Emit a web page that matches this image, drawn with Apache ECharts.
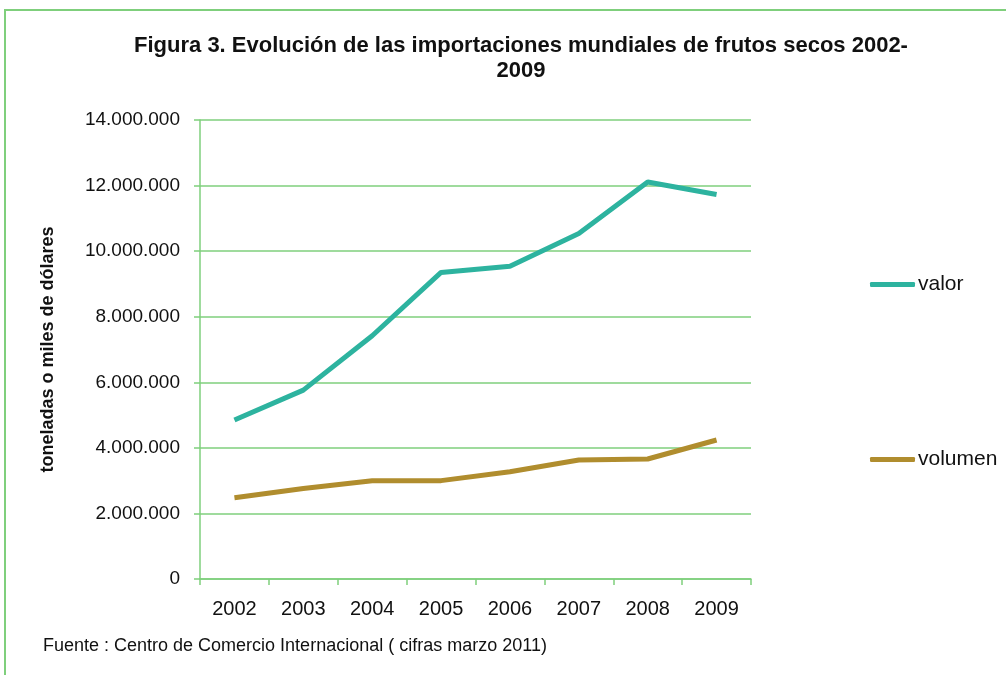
<!DOCTYPE html>
<html>
<head>
<meta charset="utf-8">
<script src="https://cdn.jsdelivr.net/npm/echarts@6/dist/echarts.min.js"></script>
<style>
  html, body { margin: 0; padding: 0; background: #fff; }
  #chart { width: 1006px; height: 675px; }
</style>
</head>
<body>
<div id="chart"></div>
<script>
// datos
const years = ['2002', '2003', '2004', '2005', '2006', '2007', '2008', '2009'];
const valor = [4850000, 5760000, 7420000, 9350000, 9540000, 10540000, 12110000, 11730000];
const volumen = [2480000, 2760000, 3000000, 3000000, 3270000, 3630000, 3660000, 4240000];
const yTicks = [0, 2000000, 4000000, 6000000, 8000000, 10000000, 12000000, 14000000];

const green = '#7fcf7c';
const font = '"Liberation Sans", Arial, sans-serif';

// separador de miles con punto
function fmt(v) {
    return String(v).replace(/\B(?=(\d{3})+(?!\d))/g, '.');
}

const chart = echarts.init(document.getElementById('chart'));

const option = {
    backgroundColor: '#fff',
    animation: false,
    title: {
        text: 'Figura 3. Evolución de las importaciones mundiales de frutos secos 2002-\n2009',
        left: 516,
        top: 28,
        textAlign: 'center',
        textStyle: {
            fontFamily: font,
            fontWeight: 'bold', fontSize: 22, lineHeight: 25, color: '#111'
        }
    },
    graphic: [{
        type: 'rect',
        shape: { x: 5, y: 10, width: 1010, height: 680 },
        style: { fill: 'none', stroke: green, lineWidth: 2 }
    }, {
        type: 'text',
        left: 43, top: 637,
        style: {
            text: 'Fuente : Centro de Comercio Internacional ( cifras marzo 2011)',
            font: '18px ' + font, fill: '#111'
        }
    }],
    legend: {
        orient: 'vertical',
        left: 865, top: 269,
        itemWidth: 45, itemHeight: 5,
        itemGap: 154,
        icon: 'roundRect',
        textStyle: { fontFamily: font, fontSize: 21, color: '#111', padding: [0, 0, 0, -2] },
        data: ['valor', 'volumen']
    },
    grid: { left: 200, right: 255, top: 120, bottom: 96 },
    xAxis: {
        type: 'category',
        data: years,
        boundaryGap: true,
        axisLine: { lineStyle: { color: green, width: 1.5 } },
        axisTick: { show: true, length: 6, lineStyle: { color: green, width: 1.5 } },
        axisLabel: { fontFamily: font, fontSize: 20, color: '#111', margin: 20 }
    },
    yAxis: {
        type: 'value',
        min: 0, max: 14000000, interval: 2000000,
        name: 'toneladas o miles de dólares',
        nameLocation: 'middle',
        nameRotate: 90,
        nameGap: 143,
        nameTextStyle: { fontFamily: font, fontWeight: 'bold', fontSize: 18, color: '#111' },
        axisLine: { show: true, lineStyle: { color: green, width: 1.5 } },
        axisTick: { show: true, length: 6, lineStyle: { color: green, width: 1.5 } },
        splitLine: { lineStyle: { color: green, width: 1.5 } },
        axisLabel: {
            fontFamily: font, fontSize: 19, color: '#111', margin: 20,
            formatter: function (v) { return yTicks.indexOf(v) >= 0 ? fmt(v) : ''; }
        }
    },
    series: [{
        name: 'valor',
        type: 'line',
        data: valor,
        symbol: 'none',
        color: '#2db39f',
        lineStyle: { width: 5, color: '#2db39f' }
    }, {
        name: 'volumen',
        type: 'line',
        data: volumen,
        symbol: 'none',
        color: '#b08d2e',
        lineStyle: { width: 5, color: '#b08d2e' }
    }]
};

chart.setOption(option);
</script>
</body>
</html>
